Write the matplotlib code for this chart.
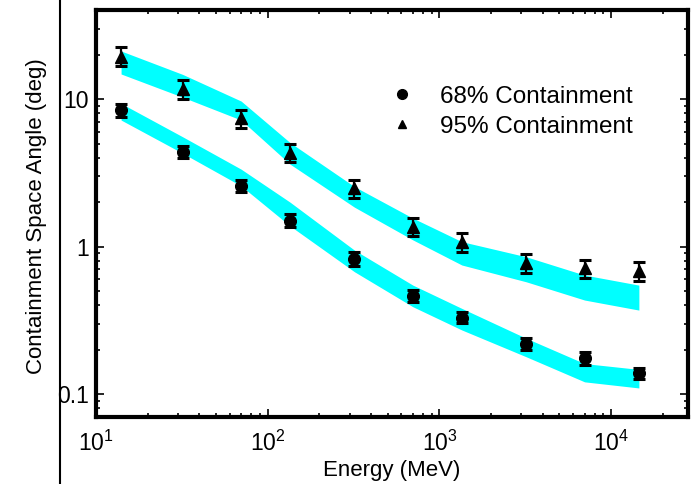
import numpy as np
import matplotlib
matplotlib.use('Agg')
import matplotlib.pyplot as plt
from matplotlib.lines import Line2D

plt.rcParams['font.family'] = ['Liberation Sans', 'DejaVu Sans']
plt.rcParams['mathtext.fontset'] = 'custom'
plt.rcParams['mathtext.rm'] = 'Liberation Sans'
plt.rcParams['mathtext.it'] = 'Liberation Sans:italic'

# energies (MeV)
energy = [14, 32, 70, 135, 320, 700, 1350, 3200, 7000, 14500]

# measured containment angles (deg) with error bar ends
psf68 = [8.42, 4.38, 2.58, 1.49, 0.826, 0.464, 0.329, 0.218, 0.175, 0.138]
psf68_hi = [9.25, 4.80, 2.82, 1.66, 0.922, 0.507, 0.358, 0.240, 0.193, 0.151]
psf68_lo = [7.51, 4.00, 2.34, 1.36, 0.741, 0.423, 0.301, 0.200, 0.158, 0.126]
psf95 = [19.4, 11.7, 7.43, 4.31, 2.49, 1.36, 1.08, 0.769, 0.711, 0.686]
psf95_hi = [22.4, 13.5, 8.42, 4.95, 2.82, 1.56, 1.23, 0.889, 0.810, 0.789]
psf95_lo = [16.8, 10.0, 6.39, 3.74, 2.14, 1.18, 0.922, 0.664, 0.614, 0.586]

# simulated bands
band68_top = [9.35, 5.55, 3.35, 2.0, 0.946, 0.548, 0.381, 0.239, 0.161, 0.147]
band68_bot = [7.21, 4.29, 2.58, 1.38, 0.675, 0.391, 0.272, 0.179, 0.121, 0.110]
band95_top = [21.2, 14.7, 9.7, 5.07, 2.55, 1.56, 1.08, 0.853, 0.641, 0.548]
band95_bot = [14.8, 10.3, 7.21, 3.62, 1.85, 1.11, 0.75, 0.577, 0.434, 0.371]

fig = plt.figure(figsize=(6.94, 4.84), dpi=100)
ax = fig.add_axes([0.1383, 0.139, 0.853, 0.841])

ax.set_xscale('log')
ax.set_yscale('log')

ax.fill_between(energy, band68_bot, band68_top, color='#00ffff', linewidth=0, zorder=1)
ax.fill_between(energy, band95_bot, band95_top, color='#00ffff', linewidth=0, zorder=1)

e = np.array(energy)
for val, lo, hi, mk, ms in [(psf68, psf68_lo, psf68_hi, 'o', 8.4),
                            (psf95, psf95_lo, psf95_hi, '^', 8.5)]:
    v = np.array(val)
    yerr = [v - np.array(lo), np.array(hi) - v]
    ax.errorbar(e, v, yerr=yerr, fmt=mk, color='black', markersize=ms,
                elinewidth=1.6, capsize=4.3, capthick=2.2, zorder=3)

ax.set_xlim(10, 28000)
ax.set_ylim(0.0702, 40.4)

ax.set_yticks([0.1, 1, 10])
ax.set_yticklabels(['0.1', '1', '10'])

for s in ax.spines.values():
    s.set_linewidth(3)
ax.tick_params(which='both', direction='in', top=True, right=True, width=1.2)
ax.tick_params(which='major', length=6, labelsize=16.5)
ax.tick_params(axis='x', which='major', pad=10)
ax.tick_params(axis='y', which='major', pad=5)
ax.tick_params(which='minor', length=3)

ax.set_xlabel('Energy (MeV)', fontsize=16)
ax.set_ylabel('Containment Space Angle (deg)', fontsize=16)
ax.xaxis.set_label_coords(0.5, -0.133)
ax.yaxis.set_label_coords(-0.101, 0.493)
ax.xaxis.label.set_va('center')
ax.yaxis.label.set_va('center')

handles = [Line2D([], [], marker='o', color='black', linestyle='none', markersize=7),
           Line2D([], [], marker='^', color='black', linestyle='none', markersize=6)]
ax.legend(handles, ['68% Containment', '95% Containment'], loc='upper left',
          bbox_to_anchor=(0.497, 0.813), frameon=False, fontsize=17.5,
          handlelength=1.0, handletextpad=1.05, labelspacing=0.33, borderpad=0,
          borderaxespad=0)

# stray vertical rule at the left of the figure
fig.add_artist(Line2D([0.0865, 0.0865], [0, 1], transform=fig.transFigure,
                      color='black', linewidth=1.5))

fig.savefig('out.png', dpi=100)
